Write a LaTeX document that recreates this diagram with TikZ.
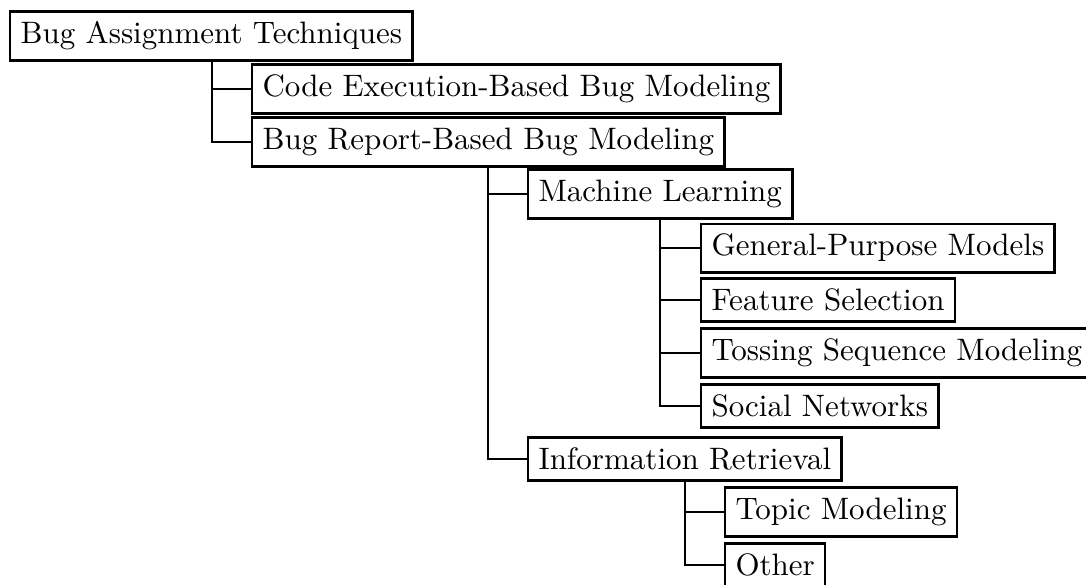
\documentclass[tikz,border=0pt]{standalone}
\begin{document}
\tikzset{
  box/.style={draw, thick, rectangle, inner sep=3.333pt, anchor=west},
  link/.style={draw, thin}
}
\begin{tikzpicture}[x=0.3226pt,y=-0.3226pt]
\useasboundingbox (0,0) rectangle (1086,584);
% categories
\node[box] (root)   at (9,36)    {Bug Assignment Techniques};
\node[box] (code)   at (251,89)  {Code Execution-Based Bug Modeling};
\node[box] (report) at (251,142) {Bug Report-Based Bug Modeling};
\node[box] (ml)     at (527,194) {Machine Learning};
\node[box] (gp)     at (700,248) {General-Purpose Models};
\node[box] (fs)     at (700,300) {Feature Selection};
\node[box] (ts)     at (700,353) {Tossing Sequence Modeling};
\node[box] (sn)     at (700,406) {Social Networks};
\node[box] (ir)     at (527,459) {Information Retrieval};
\node[box] (tm)     at (724,512) {Topic Modeling};
\node[box] (other)  at (724,565) {Other};
% tree connectors
\draw[link] (root.south -| 212,0) |- (code.west);
\draw[link] (root.south -| 212,0) |- (report.west);
\draw[link] (report.south -| 488,0) |- (ml.west);
\draw[link] (report.south -| 488,0) |- (ir.west);
\draw[link] (ml.south -| 660,0) |- (gp.west);
\draw[link] (ml.south -| 660,0) |- (fs.west);
\draw[link] (ml.south -| 660,0) |- (ts.west);
\draw[link] (ml.south -| 660,0) |- (sn.west);
\draw[link] (ir.south -| 685,0) |- (tm.west);
\draw[link] (ir.south -| 685,0) |- (other.west);
\end{tikzpicture}
\end{document}
